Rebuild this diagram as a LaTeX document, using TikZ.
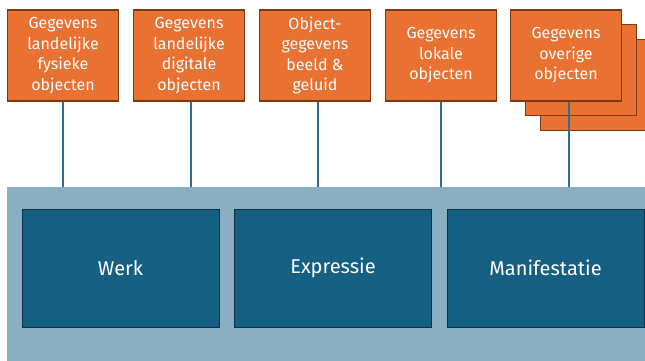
\documentclass[tikz,border=0pt]{standalone}
\usepackage{fontspec}
\setmainfont{Fira Sans}
\usepackage{tikz}

\definecolor{oranje}{HTML}{E97132}
\definecolor{bruin}{HTML}{7A3A12}
\definecolor{donkerblauw}{HTML}{156082}
\definecolor{randblauw}{HTML}{0E2F44}
\definecolor{lichtblauw}{HTML}{8BAFC2}
\definecolor{lijnblauw}{HTML}{2A7094}

\begin{document}
\begin{tikzpicture}[
                    x=1pt, y=-1pt,
                    bron/.style={
                        rectangle,
                        draw=bruin,
                        line width=1.5pt,
                        fill=oranje,
                        minimum width=111pt,
                        minimum height=91pt,
                        inner sep=0pt,
                        align=center,
                        text=white,
                        font=\fontsize{16}{20.5}\selectfont
                    },
                    entiteit/.style={
                        rectangle,
                        draw=randblauw,
                        line width=1pt,
                        fill=donkerblauw,
                        minimum width=197pt,
                        minimum height=118pt,
                        text=white,
                        font=\fontsize{20}{24}\selectfont
                    },
                    lijn/.style={draw=lijnblauw, line width=1.3pt}
                ]
                    \useasboundingbox (0,0) rectangle (645,361);

                    % Band
                    \node[rectangle, fill=lichtblauw, anchor=north west, minimum width=660pt, minimum height=190pt] (band) at (7,187) {};

                    \node[entiteit] (werk) at (120.5,268) {Werk};
                    \node[entiteit] (expressie) at (333,268) {Expressie};
                    \node[entiteit] (manifestatie) at (545.5,268) {Manifestatie};

                    % Bronnen
                    \node[bron] (overig3) at (596,85) {};
                    \node[bron] (overig2) at (581,70) {};
                    \node[bron] (g1) at (63,55.5) {Gegevens\\landelijke\\fysieke\\objecten};
                    \node[bron] (g2) at (189,55.5) {Gegevens\\landelijke\\digitale\\objecten};
                    \node[bron] (g3) at (315,55.5) {Object-\\gegevens\\beeld \&\\geluid};
                    \node[bron] (g4) at (441,55.5) {Gegevens\\lokale\\objecten};
                    \node[bron] (g5) at (566,55.5) {Gegevens\\overige\\objecten};

                    % Edges
                    \draw[lijn] (g1.south) -- (g1.south |- band.north);
                    \draw[lijn] ([xshift=2pt]g2.south) -- ([xshift=2pt]g2.south |- band.north);
                    \draw[lijn] ([xshift=3pt]g3.south) -- ([xshift=3pt]g3.south |- band.north);
                    \draw[lijn] (g4.south) -- (g4.south |- band.north);
                    \draw[lijn] ([xshift=3pt]g5.south) -- ([xshift=3pt]g5.south |- band.north);
                \end{tikzpicture}
\end{document}
